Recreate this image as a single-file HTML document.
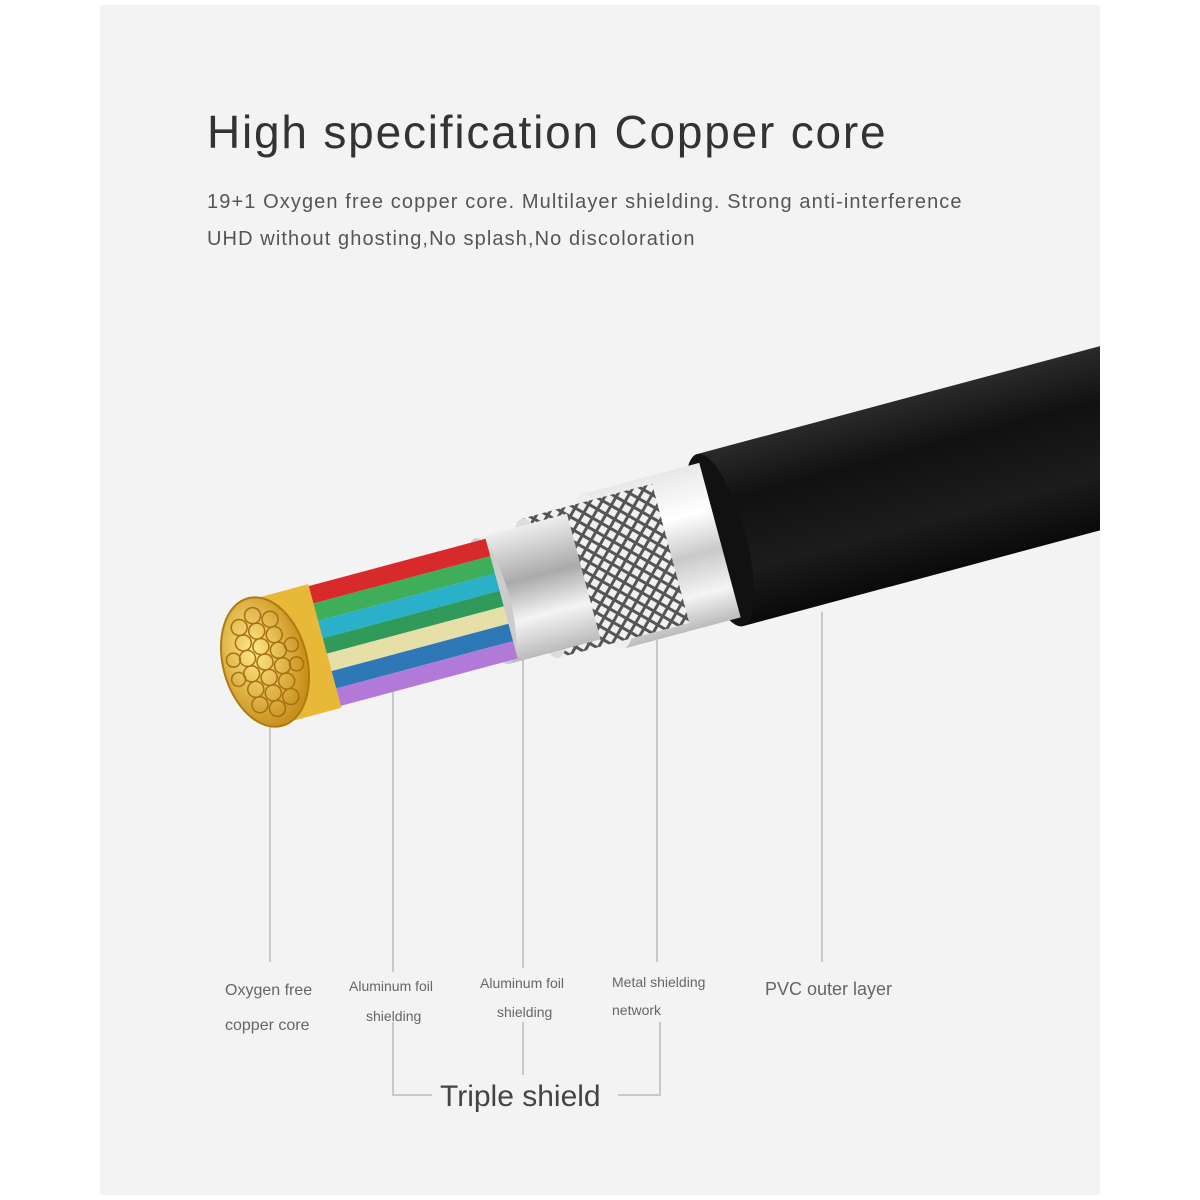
<!DOCTYPE html>
<html><head><meta charset="utf-8"><style>
html,body{margin:0;padding:0;background:#fff;}
svg{display:block;}
</style></head><body>
<svg width="1200" height="1200" viewBox="0 0 1200 1200" xmlns="http://www.w3.org/2000/svg">
<defs>
<linearGradient id="blk" x1="0" y1="0" x2="0" y2="1">
<stop offset="0" stop-color="#2a2a2a"/><stop offset="0.3" stop-color="#111"/><stop offset="0.7" stop-color="#1c1c1c"/><stop offset="1" stop-color="#0a0a0a"/></linearGradient>
<linearGradient id="wht" x1="0" y1="0" x2="0" y2="1">
<stop offset="0" stop-color="#e8e8e8"/><stop offset="0.3" stop-color="#fff"/><stop offset="0.55" stop-color="#c9c9c9"/><stop offset="0.8" stop-color="#f4f4f4"/><stop offset="1" stop-color="#bbb"/></linearGradient>
<linearGradient id="foil" x1="0" y1="0" x2="0" y2="1">
<stop offset="0" stop-color="#eee"/><stop offset="0.4" stop-color="#aaa"/><stop offset="0.7" stop-color="#f4f4f4"/><stop offset="1" stop-color="#bbb"/></linearGradient>
<pattern id="mesh" width="10" height="10" patternUnits="userSpaceOnUse" patternTransform="rotate(45)">
<rect width="10" height="10" fill="#f0f0f0"/><rect width="3" height="10" fill="#555"/><rect width="10" height="3" fill="#555"/></pattern>
<radialGradient id="cu" cx="0.4" cy="0.4" r="0.6"><stop offset="0" stop-color="#ffe98a"/><stop offset="1" stop-color="#c8901c"/></radialGradient>
<clipPath id="pan"><rect x="100" y="5" width="1000" height="1190"/></clipPath>
</defs>
<rect x="100" y="5" width="1000" height="1190" fill="#f3f3f3"/>
<text x="207" y="148" font-family="Liberation Sans, sans-serif" font-size="46" letter-spacing="1.8" fill="#333">High specification Copper core</text>
<text x="207" y="208" font-family="Liberation Sans, sans-serif" font-size="20" letter-spacing="1.1" fill="#555">19+1 Oxygen free copper core.   Multilayer shielding.   Strong anti-interference</text>
<text x="207" y="245" font-family="Liberation Sans, sans-serif" font-size="20" letter-spacing="1.1" fill="#555">UHD without ghosting,No splash,No discoloration</text>

<g stroke="#c8c8c8" stroke-width="2" fill="none">
<line x1="270" y1="700" x2="270" y2="962"/>
<line x1="393" y1="680" x2="393" y2="972"/>
<line x1="523" y1="660" x2="523" y2="968"/>
<line x1="657" y1="640" x2="657" y2="962"/>
<line x1="822" y1="612" x2="822" y2="962"/>
<polyline points="393,1022 393,1095 432,1095"/>
<line x1="523" y1="1022" x2="523" y2="1075"/>
<polyline points="618,1095 660,1095 660,1022"/>
</g>

<g clip-path="url(#pan)">
<g transform="translate(265,662) rotate(-15)">
<rect x="471" y="-89" width="500" height="178" fill="url(#blk)"/>
<ellipse cx="471" cy="0" rx="26" ry="89" fill="#111"/>
<rect x="350" y="-80" width="121" height="160" fill="url(#wht)"/>
<ellipse cx="350" cy="0" rx="23" ry="80" fill="#eee"/>
<rect x="285" y="-72" width="135" height="144" fill="url(#mesh)"/>
<ellipse cx="285" cy="0" rx="20" ry="72" fill="#ddd"/>
<rect x="235" y="-65" width="95" height="130" fill="url(#foil)"/>
<ellipse cx="235" cy="0" rx="18" ry="65" fill="#ccc"/>
<rect x="55" y="-62" width="190" height="18" fill="#d82a2a"/>
<rect x="55" y="-44" width="190" height="18" fill="#3fae5a"/>
<rect x="55" y="-26" width="190" height="18" fill="#2ab0c8"/>
<rect x="55" y="-8" width="190" height="16" fill="#2f9a5a"/>
<rect x="55" y="8" width="190" height="18" fill="#e6e0a8"/>
<rect x="55" y="26" width="190" height="18" fill="#2f78b8"/>
<rect x="55" y="44" width="190" height="18" fill="#b27ad8"/>
<rect x="0" y="-64" width="62" height="128" fill="#e8b838"/>
<ellipse cx="0" cy="0" rx="42" ry="66" fill="url(#cu)" stroke="#b07a10" stroke-width="2"/>
<g fill="none" stroke="#a87010" stroke-width="1.5">
<circle cx="0" cy="-48" r="8"/><circle cx="0" cy="-32" r="8"/><circle cx="0" cy="-16" r="8"/><circle cx="0" cy="0" r="8"/><circle cx="0" cy="16" r="8"/><circle cx="0" cy="32" r="8"/><circle cx="0" cy="48" r="8"/>
<circle cx="-16" cy="-40" r="8"/><circle cx="-16" cy="-24" r="8"/><circle cx="-16" cy="-8" r="8"/><circle cx="-16" cy="8" r="8"/><circle cx="-16" cy="24" r="8"/><circle cx="-16" cy="40" r="8"/>
<circle cx="16" cy="-40" r="8"/><circle cx="16" cy="-24" r="8"/><circle cx="16" cy="-8" r="8"/><circle cx="16" cy="8" r="8"/><circle cx="16" cy="24" r="8"/><circle cx="16" cy="40" r="8"/>
<circle cx="-30" cy="-10" r="7"/><circle cx="-30" cy="10" r="7"/><circle cx="30" cy="-10" r="7"/><circle cx="30" cy="10" r="7"/>
</g>
</g>
</g>

<g font-family="Liberation Sans, sans-serif" fill="#666">
<text x="225" y="995" font-size="16">Oxygen free</text>
<text x="225" y="1030" font-size="16">copper core</text>
<text x="349" y="991" font-size="14">Aluminum foil</text>
<text x="366" y="1021" font-size="14">shielding</text>
<text x="480" y="988" font-size="14">Aluminum foil</text>
<text x="497" y="1017" font-size="14">shielding</text>
<text x="612" y="987" font-size="14">Metal shielding</text>
<text x="612" y="1015" font-size="14">network</text>
<text x="765" y="995" font-size="18">PVC outer layer</text>
<text x="440" y="1106" font-size="30" fill="#444">Triple shield</text>
</g>
</svg>
</body></html>
